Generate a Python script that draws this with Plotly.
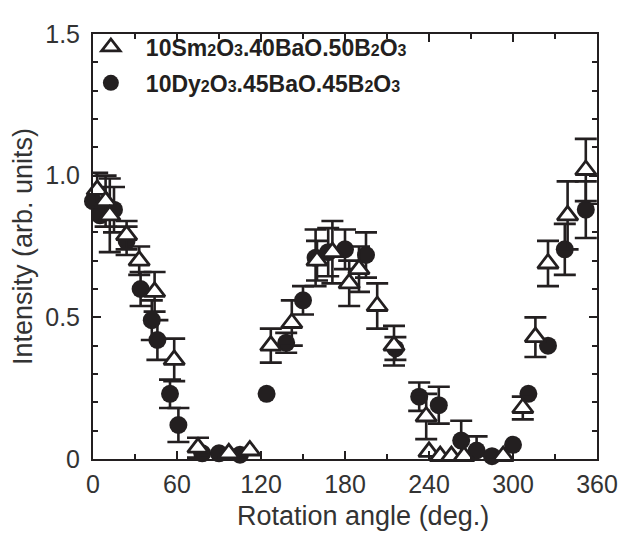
import plotly.graph_objects as go

# --- data ---
sm_angle = [3, 9, 12, 24, 33, 44, 58, 75, 97, 112, 127, 142, 160, 171, 183, 190, 203, 215,
            238, 240, 248, 256, 265, 293, 307, 316, 325, 339, 352]
sm_int = [0.95, 0.91, 0.86, 0.79, 0.70, 0.59, 0.35, 0.04, 0.02, 0.03, 0.40, 0.48, 0.70, 0.73,
          0.62, 0.67, 0.54, 0.40, 0.15, 0.025, 0.01, 0.01, 0.01, 0.01, 0.18, 0.43, 0.69, 0.86, 1.02]
sm_err = [0.06, 0.09, 0.13, 0.05, 0.05, 0.07, 0.075, 0.035, None, None, 0.06, 0.08, 0.07, 0.11,
          0.08, 0.08, 0.08, 0.07, 0.08, None, None, None, None, None, 0.04, 0.07, 0.08, 0.12, 0.11]

dy_angle = [0, 5, 15, 24, 34, 42, 46, 55, 61, 78, 90, 105, 124, 138, 150, 159, 168, 180, 195,
            216, 233, 247, 263, 274, 285, 300, 311, 325, 337, 352]
dy_int = [0.91, 0.86, 0.88, 0.77, 0.60, 0.49, 0.42, 0.23, 0.12, 0.02, 0.02, 0.015, 0.23, 0.41,
          0.56, 0.71, 0.73, 0.74, 0.72, 0.39, 0.22, 0.19, 0.065, 0.03, 0.01, 0.05, 0.23, 0.40,
          0.74, 0.88]
dy_err = [0.04, None, 0.08, 0.05, 0.06, 0.07, 0.07, 0.05, 0.06, None, None, None, None, 0.035,
          0.05, 0.1, 0.085, 0.07, 0.08, 0.04, 0.05, 0.065, 0.07, 0.05, None, None, None, None,
          0.09, 0.1]

x_ticks = [0, 60, 120, 180, 240, 300, 360]
y_ticks = [0, 0.5, 1.0, 1.5]
y_ticktext = ["0", "0.5", "1.0", "1.5"]
x_title = "Rotation angle (deg.)"
y_title = "Intensity (arb. units)"

SUB = '<span style="font-size:16px">{}</span>'
sm_name = "10Sm" + SUB.format("2") + "O" + SUB.format("3") + ".40BaO.50B" + SUB.format("2") + "O" + SUB.format("3")
dy_name = "10Dy" + SUB.format("2") + "O" + SUB.format("3") + ".45BaO.45B" + SUB.format("2") + "O" + SUB.format("3")

INK = "#231f20"
TXT = "#333333"
FONT = "Liberation Sans, Arial, sans-serif"


def split(xs, ys, es):
    """Points with an error bar, and points without one."""
    w = [(x, y, e) for x, y, e in zip(xs, ys, es) if e is not None]
    n = [(x, y) for x, y, e in zip(xs, ys, es) if e is None]
    return ([p[0] for p in w], [p[1] for p in w], [p[2] for p in w],
            [p[0] for p in n], [p[1] for p in n])


fig = go.Figure()

series = [
    (dy_angle, dy_int, dy_err, dy_name, "dy", 2,
     dict(symbol="circle", size=18, color=INK, line=dict(width=0))),
    (sm_angle, sm_int, sm_err, sm_name, "sm", 1,
     dict(symbol="triangle-up", size=18, color="white", line=dict(width=2.8, color=INK))),
]

for xs, ys, es, name, grp, rank, mk in series:
    xw, yw, ew, xn, yn = split(xs, ys, es)
    fig.add_trace(go.Scatter(
        x=xw, y=yw, mode="markers", name=name, legendrank=rank, legendgroup=grp,
        marker=mk,
        error_y=dict(type="data", array=ew, symmetric=True, color=INK, thickness=2.6, width=11),
        cliponaxis=False,
    ))
    fig.add_trace(go.Scatter(
        x=xn, y=yn, mode="markers", name=name, legendgroup=grp, showlegend=False,
        marker=mk, cliponaxis=False,
    ))

axis_common = dict(
    showline=True, linecolor=INK, linewidth=2, mirror="allticks",
    ticks="inside", ticklen=8, tickwidth=1.5, tickcolor=INK,
    showgrid=False, zeroline=False,
    tickfont=dict(family=FONT, size=25, color=TXT),
)

fig.update_xaxes(
    range=[0, 360], tickvals=x_ticks,
    minor=dict(dtick=30, ticks="inside", ticklen=5, tickwidth=1.5, tickcolor=INK),
    ticklabelstandoff=2,
    **axis_common,
)
fig.update_yaxes(
    range=[0, 1.5], tickvals=y_ticks, ticktext=y_ticktext,
    minor=dict(dtick=0.1, ticks="inside", ticklen=5, tickwidth=1.5, tickcolor=INK),
    title_text=y_title, title_standoff=6, ticklabelstandoff=6,
    title_font=dict(family=FONT, size=27, color=TXT),
    **axis_common,
)

# x-axis title (placed slightly right of centre, as in the reference)
fig.add_annotation(
    text=x_title, xref="paper", yref="paper", x=0.535, y=-0.135,
    xanchor="center", yanchor="middle", showarrow=False,
    font=dict(family=FONT, size=27, color=TXT),
)

fig.update_layout(
    width=629, height=534,
    margin=dict(l=80, r=40, t=15, b=83),
    paper_bgcolor="white", plot_bgcolor="white",
    showlegend=True,
    legend=dict(
        x=-0.034, y=1.02, xanchor="left", yanchor="top",
        bgcolor="rgba(0,0,0,0)", borderwidth=0,
        font=dict(family=FONT, size=23, color=INK, weight="bold"),
        traceorder="grouped", tracegroupgap=3, itemwidth=60,
    ),
)

fig.write_html("out.html")
